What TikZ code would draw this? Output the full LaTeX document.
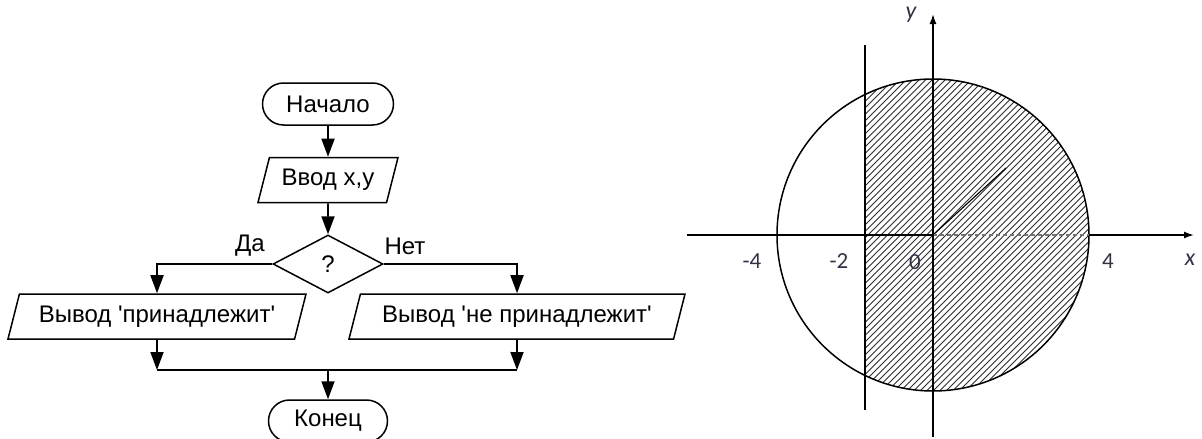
\documentclass[tikz,border=0pt]{standalone}
\usepackage{fontspec}
\setmainfont{Liberation Sans}
\newfontfamily\axisfont{Carlito}
\usetikzlibrary{arrows.meta, positioning, calc, shapes.geometric, shapes.misc}

\definecolor{labelgrey}{RGB}{50,50,70}
\definecolor{hatchgrey}{RGB}{45,45,45}

\begin{document}
\begin{tikzpicture}[x=1pt, y=-1pt, >={Triangle[width=13pt,length=18pt]}, line join=miter]
    % Styles
    \tikzset{
        flowline/.style={line width=1.8pt, black},
        blockfont/.style={font=\fontsize{24}{26}\selectfont},
        terminal/.style={draw, line width=1.5pt, rounded rectangle, blockfont,
            minimum width=131pt, minimum height=42pt, inner sep=0pt},
        iobox/.style={draw, line width=1.5pt, trapezium, trapezium left angle=62,
            trapezium right angle=118, trapezium stretches body, blockfont,
            minimum height=45pt, inner sep=0pt},
        decision/.style={draw, line width=1.5pt, diamond, blockfont,
            minimum width=110pt, minimum height=58pt, inner sep=0pt},
        axisline/.style={line width=1.5pt, black},
        hatch/.style={line width=0.9pt, hatchgrey},
        axislabel/.style={font=\axisfont\fontsize{23}{25}\selectfont, text=labelgrey}
    }
    \useasboundingbox (0,0) rectangle (1202,439);

    % --- Flowchart blocks ---
    \node[terminal] (start) at (328,104) {Начало};
    \node[iobox, minimum width=140pt] (input) at (328,180) {Ввод x,y};
    \node[decision] (check) at (328,264) {?};
    \node[iobox, minimum width=298pt] (outYes) at (157,316.5) {Вывод \textquotesingle принадлежит\textquotesingle};
    \node[iobox, minimum width=336pt] (outNo) at (517,316.5) {Вывод \textquotesingle не принадлежит\textquotesingle};
    \node[terminal, minimum width=119pt] (finish) at (328,421) {Конец};

    \node[blockfont] (yesLabel) at (250,246) {Да};
    \node[blockfont] (noLabel) at (405,246) {Нет};

    % --- Flow lines ---
    \draw[flowline, ->] (start.south) -- (input.north);
    \draw[flowline, ->] (input.south) -- (check.north);
    \draw[flowline, ->] (check.west) -| (outYes.north);
    \draw[flowline, ->] (check.east) -| (outNo.north);

    \coordinate (joinYes) at (157,370);
    \coordinate (joinNo) at (517,370);
    \coordinate (joinMid) at (328,370);
    \draw[flowline, ->] (outYes.south) -- (joinYes);
    \draw[flowline, ->] (outNo.south) -- (joinNo);
    \draw[flowline] (joinYes) -- (joinNo);
    \draw[flowline, ->] (joinMid) -- (finish.north);

    % --- Plot: circle and strip ---
    \coordinate (O) at (933,235);
    \coordinate (xStart) at (687,235);
    \coordinate (xRim) at (1089,235);
    \coordinate (xEnd) at (1194,235);
    \coordinate (yStart) at (933,437);
    \coordinate (yEnd) at (933,14);
    \coordinate (stripTop) at (865,45);
    \coordinate (stripBot) at (865,410);

    % Hatching inside the circle, right of the strip line
    \begin{scope}
        \clip (865,60) rectangle (1100,400);
        \clip (O) circle (156pt);
        \foreach \k in {-55,...,55}
            \draw[hatch] ($(O)+(\k*6.5-300,300)$) -- ++(600,-600);
    \end{scope}
    \draw[line width=1.1pt, black] (O) -- (1006,168);

    \draw[axisline] (O) circle (156pt);
    \draw[axisline] (stripBot) -- (stripTop);

    % Axes
    \draw[axisline] (xStart) -- (O);
    \draw[line width=1.2pt, black!55, dash pattern=on 4pt off 3pt] (O) -- (xRim);
    \draw[axisline, -{Latex[length=10pt,width=7pt]}] (xRim) -- (xEnd);
    \draw[axisline, -{Latex[length=10pt,width=7pt]}] (yStart) -- (yEnd);

    % Axis labels
    \node[axislabel] (lblMinusFour) at (752,261) {-4};
    \node[axislabel] (lblMinusTwo) at (839,261) {-2};
    \node[axislabel] (lblZero) at (915,262) {0};
    \node[axislabel] (lblFour) at (1108,261) {4};
    \node[axislabel, font=\axisfont\itshape\fontsize{24}{26}\selectfont] (lblX) at (1190,260) {x};
    \node[axislabel, font=\axisfont\itshape\fontsize{24}{26}\selectfont] (lblY) at (911,15) {y};
\end{tikzpicture}
\end{document}
